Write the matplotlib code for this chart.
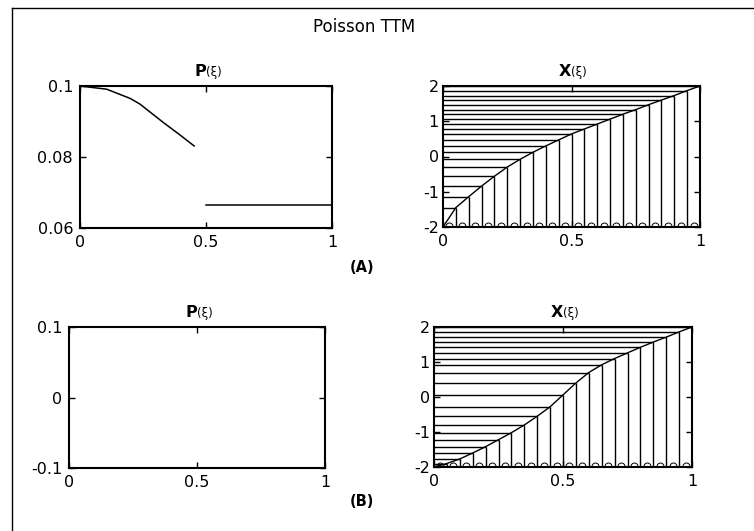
import numpy as np
import matplotlib.pyplot as plt
from matplotlib.lines import Line2D
from matplotlib.path import Path

# P(xi) for case (A): smooth part and constant part
xi_pa = [0.0, 0.106, 0.199, 0.238, 0.331, 0.397, 0.453]
p_a = [0.1, 0.0991, 0.0965, 0.0949, 0.0897, 0.0862, 0.0831]
xi_pa2 = [0.5, 1.0]
p_a2 = [0.0666, 0.0666]

# X(xi) sampled on the xi grid
xi = [0.0, 0.05, 0.1, 0.15, 0.2, 0.25, 0.3, 0.35, 0.4, 0.45, 0.5,
      0.55, 0.6, 0.65, 0.7, 0.75, 0.8, 0.85, 0.9, 0.95, 1.0]
x_a = [-2.0, -1.45, -1.14, -0.84, -0.56, -0.30, -0.08, 0.12, 0.30, 0.47, 0.64,
       0.78, 0.92, 1.06, 1.20, 1.33, 1.47, 1.60, 1.73, 1.87, 2.0]
x_b = [-2.0, -1.90, -1.77, -1.60, -1.42, -1.22, -1.02, -0.80, -0.55, -0.28, 0.06,
       0.40, 0.70, 0.92, 1.10, 1.26, 1.42, 1.57, 1.71, 1.86, 2.0]

plt.rcParams["font.family"] = "DejaVu Sans"
fig = plt.figure(figsize=(7.54, 5.31), dpi=100)

# outer frame (left and top edges only)
fig.add_artist(Line2D([12 / 754, 12 / 754], [0, 1 - 8 / 531], color="k", lw=1.0,
                      transform=fig.transFigure))
fig.add_artist(Line2D([12 / 754, 1], [1 - 8 / 531, 1 - 8 / 531], color="k", lw=1.0,
                      transform=fig.transFigure))

fig.text(364 / 754, 1 - 27 / 531, "Poisson TTM", ha="center", va="center", fontsize=12)
fig.text(362 / 754, 1 - 268 / 531, "(A)", ha="center", va="center", fontsize=10.5,
         fontweight="bold")
fig.text(362 / 754, 1 - 502 / 531, "(B)", ha="center", va="center", fontsize=10.5,
         fontweight="bold")


def px_axes(l, t, r, b):
    return fig.add_axes([l / 754, 1 - b / 531, (r - l) / 754, (b - t) / 531])


def style(ax):
    ax.tick_params(direction="in", top=True, right=True, length=4, width=1,
                   labelsize=11.5)
    ax.tick_params(axis="x", pad=5)
    ax.tick_params(axis="y", pad=5)
    for s in ax.spines.values():
        s.set_linewidth(1.5)
    ax.set_xlim(0, 1)
    ax.set_xticks([0, 0.5, 1])
    ax.set_xticklabels(["0", "0.5", "1"])


def title(ax, name):
    ax.text(0.5, 1.05, name, transform=ax.transAxes, ha="right", va="bottom",
            fontsize=11.5, fontweight="bold")
    ax.text(0.5, 1.05, "(ξ)", transform=ax.transAxes, ha="left", va="bottom",
            fontsize=8.5)


arc = Path.arc(0, 180)


def stairs(ax, xs, ys):
    xs = np.array(xs)
    ys = np.array(ys)
    ax.hlines(ys[1:], 0, xs[1:], color="k", lw=1.0)
    ax.vlines(xs[1:], -2, ys[1:], color="k", lw=1.0)
    ax.plot(xs, ys, color="k", lw=1.0)
    mids = (xs[1:] + xs[:-1]) / 2
    ax.plot(mids, np.full(len(mids), -1.97), ls="none", marker=arc, ms=5,
            mfc="none", mec="k", mew=0.7)
    ax.set_ylim(-2, 2)
    ax.set_yticks([-2, -1, 0, 1, 2])
    ax.set_yticklabels(["-2", "-1", "0", "1", "2"])
    ax.tick_params(axis="y", pad=3)


# (A) P
ax1 = px_axes(80, 86, 332, 228)
ax1.plot(xi_pa, p_a, color="k", lw=1.1)
ax1.plot(xi_pa2, p_a2, color="k", lw=1.1)
ax1.set_ylim(0.06, 0.1)
ax1.set_yticks([0.06, 0.08, 0.1])
ax1.set_yticklabels(["0.06", "0.08", "0.1"])
style(ax1)
title(ax1, "P")

# (A) X
ax2 = px_axes(443, 86, 700, 227)
style(ax2)
stairs(ax2, xi, x_a)
title(ax2, "X")

# (B) P
ax3 = px_axes(69, 327, 325, 468)
ax3.set_ylim(-0.1, 0.1)
ax3.set_yticks([-0.1, 0, 0.1])
ax3.set_yticklabels(["-0.1", "0", "0.1"])
style(ax3)
title(ax3, "P")

# (B) X
ax4 = px_axes(434, 327, 692, 467)
style(ax4)
stairs(ax4, xi, x_b)
title(ax4, "X")

fig.savefig("out.png", dpi=100)
